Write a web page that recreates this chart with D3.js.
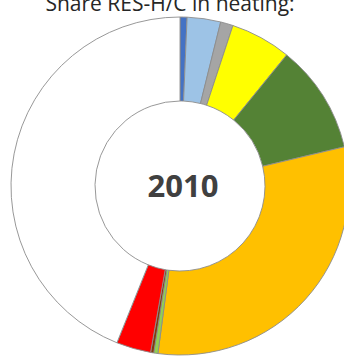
<!DOCTYPE html>
<html>
<head>
<meta charset="utf-8">
<script src="https://cdn.jsdelivr.net/npm/d3@7"></script>
<style>
  body { margin: 0; background: #fff; }
</style>
</head>
<body>
<div class="canvas"></div>
<script>
// data (share of heating, %)
const categories = ['Biomass solid', 'Biogas', 'Bioliquids', 'Solar thermal', 'Geothermal',
    'Heat pumps', 'Renewable DH', 'Other RES', 'RES electricity', 'Non-RES'];
const values = [0.67, 3.2, 1.2, 5.8, 10.4, 30.8, 0.4, 0.3, 3.3, 43.9];
const colors = ['#4472C4', '#9DC3E6', '#A5A5A5', '#FFFF00', '#548235',
    '#FFC000', '#92D050', '#843C0C', '#FF0000', '#FFFFFF'];
const year = '2010';

const width = 344, height = 358;
const cx = 180, cy = 186;
const outerR = 169, innerR = 85;

const svg = d3.select('.canvas')
    .append('svg')
    .attr('width', width)
    .attr('height', height);

// title, cut off at the top like the original
svg.append('text')
    .attr('x', 170)
    .attr('y', 11)
    .attr('text-anchor', 'middle')
    .attr('font-family', 'Open Sans, sans-serif')
    .attr('font-size', 21)
    .attr('fill', '#262626')
    .text('Share RES-H/C in heating:');

const graph = svg.append('g')
    .attr('transform', `translate(${cx},${cy})`);

const pie = d3.pie().sort(null).value(d => d.v);
const arc = d3.arc().innerRadius(innerR).outerRadius(outerR);

const data = categories.map((c, i) => ({c, v: values[i], col: colors[i]}));

graph.selectAll('path')
    .data(pie(data))
    .enter()
    .append('path')
    .attr('d', arc)
    .attr('fill', d => d.data.col)
    .attr('stroke', '#8c8c8c')
    .attr('stroke-width', 0.9);

graph.append('text')
    .attr('x', 3)
    .attr('y', 11)
    .attr('text-anchor', 'middle')
    .attr('font-family', 'Open Sans, sans-serif')
    .attr('font-weight', 'bold')
    .attr('font-size', 31)
    .attr('fill', '#404040')
    .text(year);
</script>
</body>
</html>
